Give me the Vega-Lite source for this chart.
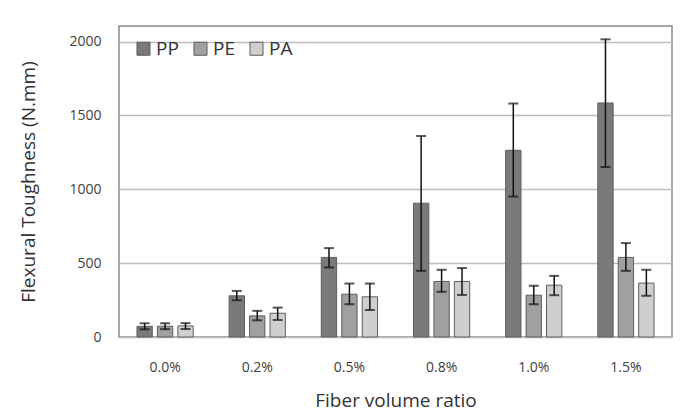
{
  "$schema": "https://vega.github.io/schema/vega-lite/v6.json",
  "width": 553,
  "height": 311,
  "autosize": {"type": "none"},
  "padding": {"left": 119, "top": 26, "right": 13, "bottom": 74},
  "background": "white",
  "config": {
    "font": "Open Sans",
    "view": {"stroke": "#8a8a8a", "strokeWidth": 1.5}
  },
  "data": {
    "values": [
      {"ratio": "0.0%", "fiber": "PP", "value": 72, "lo": 52, "hi": 93},
      {"ratio": "0.0%", "fiber": "PE", "value": 73, "lo": 53, "hi": 93},
      {"ratio": "0.0%", "fiber": "PA", "value": 75, "lo": 54, "hi": 94},
      {"ratio": "0.2%", "fiber": "PP", "value": 279, "lo": 249, "hi": 312},
      {"ratio": "0.2%", "fiber": "PE", "value": 143, "lo": 113, "hi": 177},
      {"ratio": "0.2%", "fiber": "PA", "value": 161, "lo": 115, "hi": 199},
      {"ratio": "0.5%", "fiber": "PP", "value": 539, "lo": 471, "hi": 602},
      {"ratio": "0.5%", "fiber": "PE", "value": 290, "lo": 222, "hi": 362},
      {"ratio": "0.5%", "fiber": "PA", "value": 272, "lo": 183, "hi": 362},
      {"ratio": "0.8%", "fiber": "PP", "value": 906, "lo": 448, "hi": 1361},
      {"ratio": "0.8%", "fiber": "PE", "value": 376, "lo": 306, "hi": 455},
      {"ratio": "0.8%", "fiber": "PA", "value": 376, "lo": 285, "hi": 467},
      {"ratio": "1.0%", "fiber": "PP", "value": 1264, "lo": 951, "hi": 1581},
      {"ratio": "1.0%", "fiber": "PE", "value": 283, "lo": 222, "hi": 347},
      {"ratio": "1.0%", "fiber": "PA", "value": 351, "lo": 283, "hi": 414},
      {"ratio": "1.5%", "fiber": "PP", "value": 1585, "lo": 1151, "hi": 2016},
      {"ratio": "1.5%", "fiber": "PE", "value": 539, "lo": 448, "hi": 636},
      {"ratio": "1.5%", "fiber": "PA", "value": 365, "lo": 279, "hi": 455}
    ]
  },
  "encoding": {
    "x": {
      "field": "ratio", "type": "nominal", "sort": null,
      "scale": {"paddingInner": 0.39, "paddingOuter": 0.195},
      "axis": {
        "title": "Fiber volume ratio", "labelAngle": 0, "labelFontSize": 14, "labelColor": "#404040",
        "labelPadding": 23, "ticks": false, "domain": false,
        "titleFontSize": 19, "titleFontWeight": "normal", "titleColor": "#333333", "titlePadding": 17
      }
    },
    "xOffset": {
      "field": "fiber", "type": "nominal", "sort": ["PP", "PE", "PA"],
      "scale": {"paddingInner": 0.25, "paddingOuter": 0}
    }
  },
  "layer": [
    {
      "mark": {"type": "bar", "stroke": "#5e5e5e", "strokeWidth": 1},
      "encoding": {
        "y": {
          "field": "value", "type": "quantitative",
          "scale": {"domain": [0, 2106], "nice": false},
          "axis": {
            "title": "Flexural Toughness (N.mm)", "values": [0, 500, 1000, 1500, 2000], "format": "d",
            "labelFontSize": 14, "labelColor": "#404040", "labelPadding": 18, "ticks": false, "domain": false,
            "gridColor": "#bdbdbd", "gridWidth": 1.5,
            "titleFontSize": 19, "titleFontWeight": "normal", "titleColor": "#333333", "titlePadding": 30
          }
        },
        "color": {
          "field": "fiber", "type": "nominal", "sort": ["PP", "PE", "PA"],
          "scale": {"domain": ["PP", "PE", "PA"], "range": ["#7a7a7a", "#a0a0a0", "#cfcfcf"]},
          "legend": {
            "title": null, "orient": "none", "direction": "horizontal", "legendX": 15, "legendY": 13,
            "symbolType": "square", "symbolSize": 170, "symbolStrokeColor": "#5e5e5e", "symbolStrokeWidth": 1,
            "labelFontSize": 19, "labelColor": "#333333", "columnPadding": 12, "labelOffset": 3
          }
        }
      }
    },
    {
      "mark": {"type": "rule", "color": "#111111", "strokeWidth": 1.5},
      "encoding": {
        "y": {"field": "lo", "type": "quantitative"},
        "y2": {"field": "hi"}
      }
    },
    {
      "mark": {"type": "tick", "color": "#111111", "thickness": 2, "size": 10},
      "encoding": {"y": {"field": "lo", "type": "quantitative"}}
    },
    {
      "mark": {"type": "tick", "color": "#111111", "thickness": 2, "size": 10},
      "encoding": {"y": {"field": "hi", "type": "quantitative"}}
    }
  ]
}
